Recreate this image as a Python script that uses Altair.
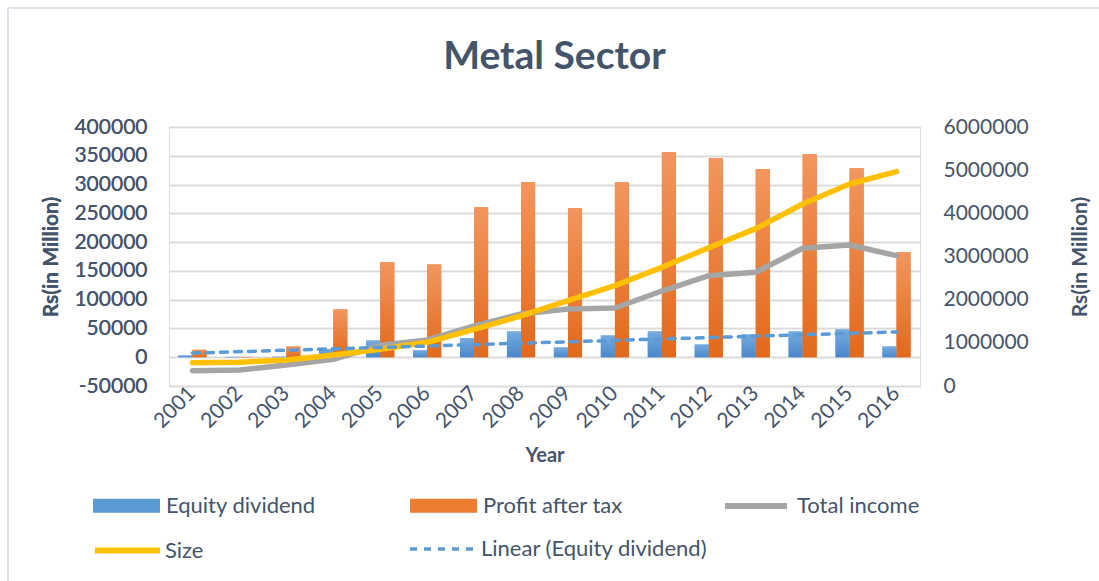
import altair as alt
import pandas as pd

years = [str(y) for y in range(2001, 2017)]
equity_dividend = [3000, 600, 900, 14000, 29000, 12000, 33000, 44700, 16900, 37700,
                   44700, 22000, 39500, 44700, 48200, 18600]
profit_after_tax = [13000, 500, 18600, 83000, 165000, 161300, 260500, 304000, 258700, 304000,
                    356000, 345700, 326600, 352700, 328300, 182200]
total_income = [355000, 372000, 486000, 618000, 943000, 1066000, 1390000, 1668000, 1784000, 1807000,
                2200000, 2555000, 2633000, 3190000, 3266000, 3019000]
size = [540000, 549000, 602000, 718000, 850000, 1012000, 1313000, 1622000, 1977000, 2324000,
        2749000, 3204000, 3645000, 4216000, 4680000, 4965000]

left_ticks = [-50000, 0, 50000, 100000, 150000, 200000, 250000, 300000, 350000, 400000]
right_ticks = [0, 1000000, 2000000, 3000000, 4000000, 5000000, 6000000]

BLUE = "#5B9BD5"
ORANGE = "#ED7D31"
GRAY = "#A5A5A5"
YELLOW = "#FFC000"
FONT = "Lato"
TXT = "#44546A"

bars_df = pd.DataFrame({
    "Year": years + years,
    "series": ["Equity dividend"] * len(years) + ["Profit after tax"] * len(years),
    "value": equity_dividend + profit_after_tax,
})
income_df = pd.DataFrame({"Year": years, "series": "Total income", "value": total_income})
size_df = pd.DataFrame({"Year": years, "series": "Size", "value": size})

leg_common = dict(title=None, orient="none", padding=0, labelFont=FONT, labelFontSize=22,
                  labelColor=TXT, labelLimit=400)

x_enc = alt.X(
    "Year:N", sort=years,
    scale=alt.Scale(paddingInner=0.4, paddingOuter=0.2),
    axis=alt.Axis(title="Year", labelAngle=-45, labelAlign="right", labelBaseline="middle",
                  labelFont=FONT, labelFontSize=21, labelColor=TXT, labelPadding=4,
                  titleFont=FONT, titleFontSize=20, titleFontWeight="bold", titleColor=TXT,
                  titlePadding=14, ticks=False, domain=False, grid=False),
)
xoff = alt.XOffset("series:N", scale=alt.Scale(domain=["Equity dividend", "Profit after tax"]))
y_left = alt.Y(
    "value:Q", scale=alt.Scale(domain=[-50000, 400000], nice=False, zero=False),
    axis=alt.Axis(title="Rs(in Million)", values=left_ticks, labelExpr="'' + datum.value",
                  labelFont=FONT, labelFontSize=21, labelColor=TXT, labelPadding=22,
                  titleFont=FONT, titleFontSize=21, titleFontWeight="bold", titleColor=TXT,
                  titlePadding=12, grid=True, gridColor="#D9D9D9", gridWidth=1.3,
                  ticks=False, domain=False),
)
y_right = alt.Y(
    "value:Q", scale=alt.Scale(domain=[0, 6000000], nice=False),
    axis=alt.Axis(title="Rs(in Million)", orient="right", values=right_ticks,
                  labelExpr="'' + datum.value",
                  labelFont=FONT, labelFontSize=21, labelColor=TXT, labelPadding=23,
                  titleFont=FONT, titleFontSize=21, titleFontWeight="bold", titleColor=TXT,
                  titleAngle=270, titlePadding=62, grid=False, ticks=False, domain=False),
)

bar_color = alt.Color(
    "series:N", scale=alt.Scale(domain=["Equity dividend", "Profit after tax"], range=[BLUE, ORANGE]),
    legend=alt.Legend(legendX=-76, legendY=345, columns=2, columnPadding=94, gridAlign="all",
                      symbolType="M-1,-0.21H1V0.21H-1Z", symbolSize=4489, symbolStrokeWidth=0,
                      labelOffset=6, **leg_common),
)

base_bars = alt.Chart(bars_df).mark_bar().encode(x=x_enc, xOffset=xoff, y=y_left, color=bar_color)


def grad(top, bottom):
    return alt.Gradient(gradient="linear", x1=0, x2=0, y1=0, y2=1,
                        stops=[alt.GradientStop(offset=0, color=top),
                               alt.GradientStop(offset=1, color=bottom)])


blue_bars = alt.Chart(bars_df).transform_filter("datum.series == 'Equity dividend'").mark_bar(
    fill=grad("#76ABE0", "#4987CA")).encode(x=x_enc, xOffset=xoff, y=y_left)
orange_bars = alt.Chart(bars_df).transform_filter("datum.series == 'Profit after tax'").mark_bar(
    fill=grad("#F2965F", "#E2691B")).encode(x=x_enc, xOffset=xoff, y=y_left)

trend = (
    alt.Chart(bars_df)
    .transform_filter("datum.series == 'Equity dividend'")
    .transform_calculate(yr="toNumber(datum.Year)")
    .transform_regression("yr", "value")
    .transform_calculate(Year="toString(datum.yr)", series="'Linear (Equity dividend)'")
    .mark_line(strokeWidth=3.5, strokeCap="round", color=BLUE)
    .encode(
        x=x_enc, y=y_left,
        strokeDash=alt.StrokeDash(
            "series:N",
            scale=alt.Scale(domain=["Linear (Equity dividend)"], range=[[7, 7]]),
            legend=alt.Legend(legendX=239, legendY=388, symbolType="stroke", symbolSize=4096,
                              symbolStrokeWidth=3.5, symbolStrokeColor=BLUE, labelOffset=5,
                              **leg_common),
        ),
    )
)

gray_line = alt.Chart(income_df).mark_line(strokeWidth=5.5, strokeCap="round", strokeJoin="round").encode(
    x=x_enc, y=y_right,
    stroke=alt.Stroke(
        "series:N", scale=alt.Scale(domain=["Total income"], range=[GRAY]),
        legend=alt.Legend(legendX=553, legendY=345, symbolType="stroke", symbolSize=3844,
                          symbolStrokeWidth=6, labelOffset=7, **leg_common),
    ),
)
yellow_line = alt.Chart(size_df).mark_line(strokeWidth=5.5, strokeCap="round", strokeJoin="round",
                                           color=YELLOW).encode(
    x=x_enc, y=y_right,
    opacity=alt.Opacity(
        "series:N", scale=alt.Scale(domain=["Size"], range=[1]),
        legend=alt.Legend(legendX=-77, legendY=388, symbolType="stroke", symbolSize=4225,
                          symbolStrokeWidth=6, symbolStrokeColor=YELLOW, symbolOpacity=1,
                          labelOffset=2, **leg_common),
    ),
)

# light chart-area border (top and left edges, as in the reference crop)
border_top = alt.Chart(bars_df).mark_rule(color="#DDE1E8", strokeWidth=1.5).encode(
    x=alt.value(-161), x2=alt.value(930), y=alt.value(-119))
border_left = alt.Chart(bars_df).mark_rule(color="#DDE1E8", strokeWidth=1.5).encode(
    x=alt.value(-161), y=alt.value(-119), y2=alt.value(454))

left = alt.layer(base_bars, blue_bars, orange_bars)
right = alt.layer(gray_line, yellow_line)
trend_layer = alt.layer(trend)

chart = (
    alt.layer(left, right, trend_layer, border_top, border_left)
    .resolve_scale(y="independent")
    .properties(
        width=751, height=259,
        autosize=alt.AutoSizeParams(type="none"),
        padding={"left": 169, "top": 127, "right": 179, "bottom": 195},
        title=alt.TitleParams("Metal Sector", font=FONT, fontSize=39, fontWeight="bold",
                              color=TXT, anchor="middle", frame="group", dx=10, offset=-70),
    )
    .configure_view(stroke="transparent", strokeWidth=0, strokeOpacity=0)
    .configure_axis(domain=False)
    .configure(background="white")
)

chart.save("out.html", embed_options={"renderer": "svg", "actions": False})
